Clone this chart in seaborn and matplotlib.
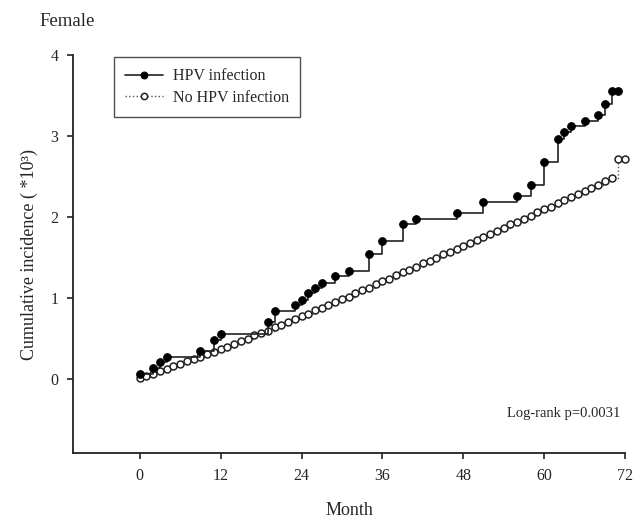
import matplotlib
matplotlib.use("Agg")
import matplotlib.pyplot as plt
import seaborn as sns
import pandas as pd

# ---- data (x in months, y in *10^3) ----
hpv_month = [0, 2, 3, 4, 9, 11, 12, 19, 20, 23, 24, 25, 26, 27, 29, 31, 34, 36,
             39, 41, 47, 51, 56, 58, 60, 62, 63, 64, 66, 68, 69, 70, 71]
hpv_value = [0.07, 0.14, 0.21, 0.28, 0.35, 0.49, 0.56, 0.71, 0.84, 0.91, 0.98,
             1.06, 1.13, 1.19, 1.27, 1.34, 1.54, 1.70, 1.91, 1.98, 2.05, 2.19,
             2.26, 2.40, 2.68, 2.97, 3.05, 3.12, 3.19, 3.26, 3.40, 3.55, 3.55]

no_hpv_month = list(range(0, 73))
no_hpv_value = [0.01, 0.04, 0.07, 0.10, 0.13, 0.16, 0.19, 0.22, 0.25, 0.28,
                0.31, 0.34, 0.37, 0.40, 0.44, 0.47, 0.50, 0.54, 0.57, 0.60,
                0.64, 0.67, 0.71, 0.74, 0.78, 0.81, 0.85, 0.88, 0.92, 0.95,
                0.99, 1.02, 1.06, 1.10, 1.13, 1.17, 1.21, 1.24, 1.28, 1.32,
                1.35, 1.39, 1.43, 1.46, 1.50, 1.54, 1.57, 1.61, 1.65, 1.68,
                1.72, 1.76, 1.79, 1.83, 1.87, 1.91, 1.94, 1.98, 2.02, 2.06,
                2.10, 2.13, 2.17, 2.21, 2.25, 2.29, 2.32, 2.36, 2.40, 2.44,
                2.48, 2.72, 2.72]

x_ticks = [0, 12, 24, 36, 48, 60, 72]
y_ticks = [0, 1, 2, 3, 4]

hpv = pd.DataFrame({"month": hpv_month, "value": hpv_value})
no_hpv = pd.DataFrame({"month": no_hpv_month, "value": no_hpv_value})

sns.set_style("ticks")
plt.rcParams["font.family"] = ["Liberation Serif", "DejaVu Serif"]

fig = plt.figure(figsize=(6.44, 5.21), dpi=100)
ax = fig.add_axes([0.1134, 0.1305, 0.8571, 0.7639])

sns.lineplot(data=no_hpv, x="month", y="value", ax=ax, drawstyle="steps-post",
             color="#555555", linestyle=":", linewidth=1.0, marker="o",
             markersize=5, markerfacecolor="white", markeredgecolor="#222222",
             markeredgewidth=1.1, label="No HPV infection", zorder=2,
             clip_on=False)
sns.lineplot(data=hpv, x="month", y="value", ax=ax, drawstyle="steps-post",
             color="#222222", linestyle="-", linewidth=1.2, marker="o",
             markersize=5.5, markerfacecolor="black", markeredgecolor="black",
             label="HPV infection", zorder=3, clip_on=False)

ax.set_xlim(-9.9, 72)
ax.set_ylim(-0.91, 4)
ax.set_xticks(x_ticks)
ax.set_yticks(y_ticks)
ax.tick_params(axis="both", direction="out", length=4, width=1.2,
               color="#222222", labelsize=11.5, pad=6.5)

for side in ["top", "right"]:
    ax.spines[side].set_visible(False)
for side in ["left", "bottom"]:
    ax.spines[side].set_linewidth(1.3)
    ax.spines[side].set_color("#222222")

ax.set_xlabel("Month", fontsize=13, labelpad=13)
ax.set_ylabel("Cumulative incidence ( *10³)", fontsize=13, labelpad=9)

handles, labels = ax.get_legend_handles_labels()
order = [labels.index("HPV infection"), labels.index("No HPV infection")]
leg = ax.legend([handles[i] for i in order], [labels[i] for i in order],
                loc="upper left", bbox_to_anchor=(0.074, 0.995),
                borderaxespad=0, fontsize=11.5, frameon=True, fancybox=False,
                handlelength=2.4, borderpad=0.7, labelspacing=0.35,
                handletextpad=0.6, markerscale=0.9)
leg.get_frame().set_edgecolor("#222222")
leg.get_frame().set_linewidth(1.0)

ax.text(0.991, 0.10, "Log-rank p=0.0031", transform=ax.transAxes,
        ha="right", va="center", fontsize=10.5)

fig.text(0.062, 1 - 21 / 521, "Female", ha="left", va="center", fontsize=13.5)

fig.savefig("out.png", dpi=100)
